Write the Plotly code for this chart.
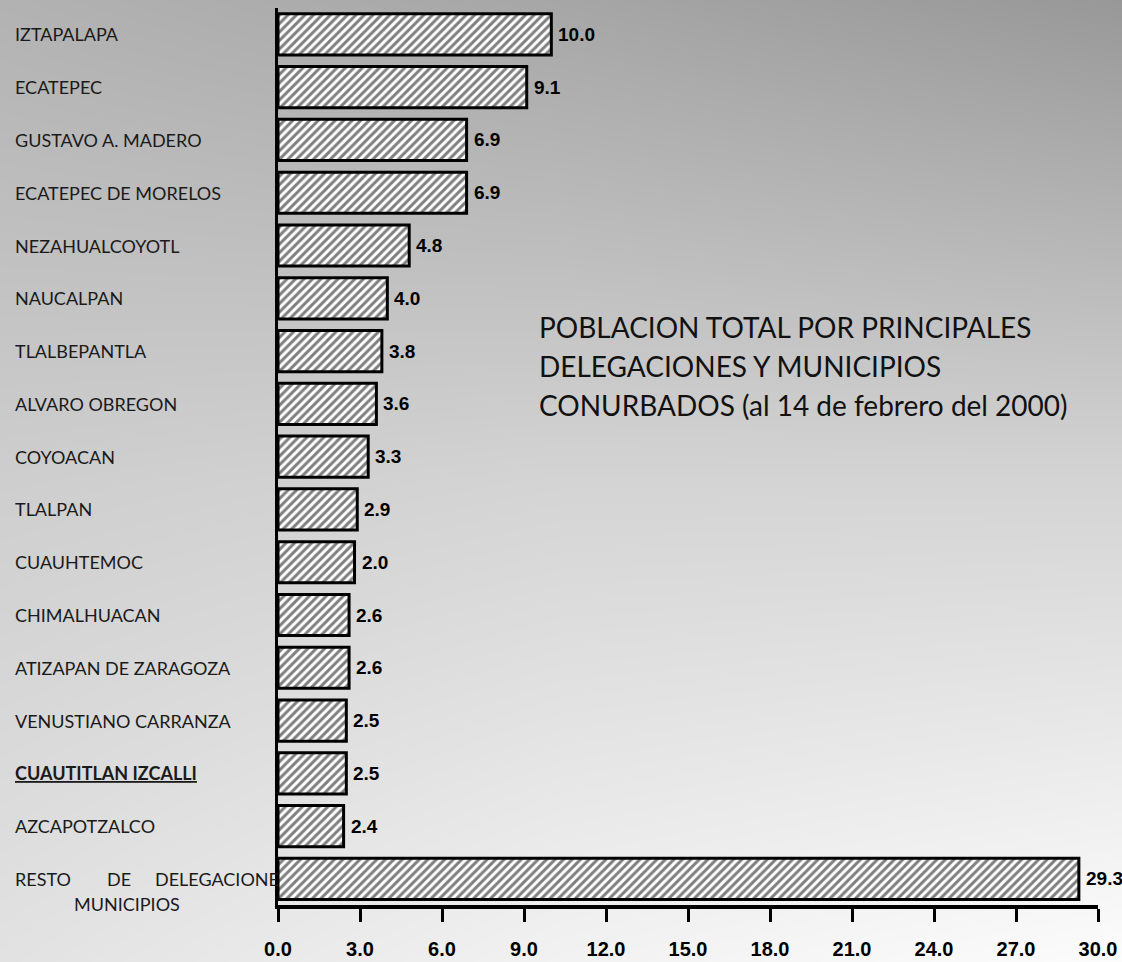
import plotly.graph_objects as go

# ---------------- data ----------------
categories = [
    "IZTAPALAPA", "ECATEPEC", "GUSTAVO A. MADERO", "ECATEPEC DE MORELOS",
    "NEZAHUALCOYOTL", "NAUCALPAN", "TLALBEPANTLA", "ALVARO OBREGON",
    "COYOACAN", "TLALPAN", "CUAUHTEMOC", "CHIMALHUACAN",
    "ATIZAPAN DE ZARAGOZA", "VENUSTIANO CARRANZA", "CUAUTITLAN IZCALLI",
    "AZCAPOTZALCO", "RESTO DE DELEGACIONES Y MUNICIPIOS",
]
values = [10.0, 9.1, 6.9, 6.9, 4.8, 4.0, 3.8, 3.6, 3.3, 2.9, 2.8, 2.6, 2.6, 2.5, 2.5, 2.4, 29.3]
value_labels = ["10.0", "9.1", "6.9", "6.9", "4.8", "4.0", "3.8", "3.6", "3.3", "2.9",
                "2.0", "2.6", "2.6", "2.5", "2.5", "2.4", "29.3"]
x_ticks = [0, 3, 6, 9, 12, 15, 18, 21, 24, 27, 30]
x_tick_labels = ["0.0", "3.0", "6.0", "9.0", "12.0", "15.0", "18.0", "21.0", "24.0", "27.0", "30.0"]
highlighted = "CUAUTITLAN IZCALLI"
title_lines = [
    "POBLACION TOTAL POR PRINCIPALES",
    "DELEGACIONES Y MUNICIPIOS",
    "CONURBADOS (al 14 de febrero del 2000)",
]
resto_line1 = ["RESTO", "DE", "DELEGACIONE"]
resto_line2 = "MUNICIPIOS"

# background gradient (gray levels)
bg_x = [0, 0.5, 1]
bg_y = [0, 0.5, 1]
bg_z = [
    [226, 242, 252],
    [206, 212, 212],
    [178, 166, 152],
]

W, H = 1122, 962
LABEL_FONT = "Lato, 'Open Sans', sans-serif"
NUM_FONT = "'Liberation Sans Narrow', 'Liberation Sans', Arial, sans-serif"

fig = go.Figure()

fig.add_trace(go.Heatmap(
    x=bg_x, y=bg_y, z=bg_z, zmin=0, zmax=255, zsmooth="best",
    colorscale=[[0, "rgb(0,0,0)"], [1, "rgb(255,255,255)"]],
    showscale=False, hoverinfo="skip", xaxis="x", yaxis="y",
))

fig.add_trace(go.Bar(
    x=values, y=categories, orientation="h",
    marker=dict(
        color="white",
        line=dict(color="black", width=3),
        pattern=dict(shape="/", fgcolor="black", bgcolor="white", size=6, solidity=0.5),
    ),
    xaxis="x2", yaxis="y2", hoverinfo="skip",
))

annotations = []
for v, lab, c in zip(values, value_labels, categories):
    annotations.append(dict(
        x=v, xref="x2", xanchor="left", xshift=5, y=c, yref="y2", yanchor="middle",
        text=lab, showarrow=False,
        font=dict(family=NUM_FONT, size=19, color="black", weight="bold"),
    ))
for c in categories[:-1]:
    txt = f"<b><u>{c}</u></b>" if c == highlighted else c
    annotations.append(dict(
        x=13 / W, xref="paper", xanchor="left", y=c, yref="y2", yanchor="middle",
        text=txt, showarrow=False, font=dict(family=LABEL_FONT, size=18, color="#1a1a1a"),
    ))
resto = categories[-1]
for word, px, anchor in zip(resto_line1, [13, 105, 281], ["left", "left", "right"]):
    annotations.append(dict(
        x=px / W, xref="paper", xanchor=anchor, y=resto, yref="y2", yanchor="middle",
        text=word, showarrow=False,
        font=dict(family=LABEL_FONT, size=18, color="#1a1a1a"),
    ))
annotations.append(dict(
    x=127 / W, xref="paper", xanchor="center", y=resto, yref="y2", yanchor="middle",
    yshift=-25, text=resto_line2, showarrow=False,
    font=dict(family=LABEL_FONT, size=18, color="#1a1a1a"),
))
for i, line in enumerate(title_lines):
    annotations.append(dict(
        x=537 / W, xref="paper", xanchor="left",
        y=1 - (327 + 39 * i) / H, yref="paper", yanchor="middle",
        text=line, showarrow=False,
        font=dict(family=LABEL_FONT, size=28, color="#111111"),
    ))

fig.update_layout(
    width=W, height=H,
    margin=dict(l=0, r=0, t=0, b=0, autoexpand=False),
    paper_bgcolor="white", plot_bgcolor="rgba(0,0,0,0)",
    showlegend=False, bargap=0.22,
    xaxis=dict(domain=[0, 1], range=[0, 1], visible=False, fixedrange=True),
    yaxis=dict(domain=[0, 1], range=[0, 1], visible=False, fixedrange=True),
    xaxis2=dict(
        domain=[278 / W, 1098 / W], range=[0, 30], anchor="y2",
        tickmode="array", tickvals=x_ticks, ticktext=x_tick_labels,
        ticks="outside", ticklen=13, tickwidth=3, tickcolor="black",
        showline=True, linewidth=4, linecolor="black", showgrid=False, zeroline=False,
        ticklabelstandoff=10,
        tickfont=dict(family=NUM_FONT, size=20, color="black", weight="bold"),
    ),
    yaxis2=dict(
        domain=[1 - 905.3 / H, 1 - 8 / H], anchor="x2",
        type="category", categoryorder="array", categoryarray=categories,
        autorange="reversed", showticklabels=False, ticks="",
        showline=True, linewidth=3, linecolor="black", showgrid=False, zeroline=False,
    ),
    annotations=annotations,
)

fig.write_html(
    "out.html",
    config={"displayModeBar": False},
    post_script="document.body.style.margin='0';document.body.style.overflow='hidden';",
)
